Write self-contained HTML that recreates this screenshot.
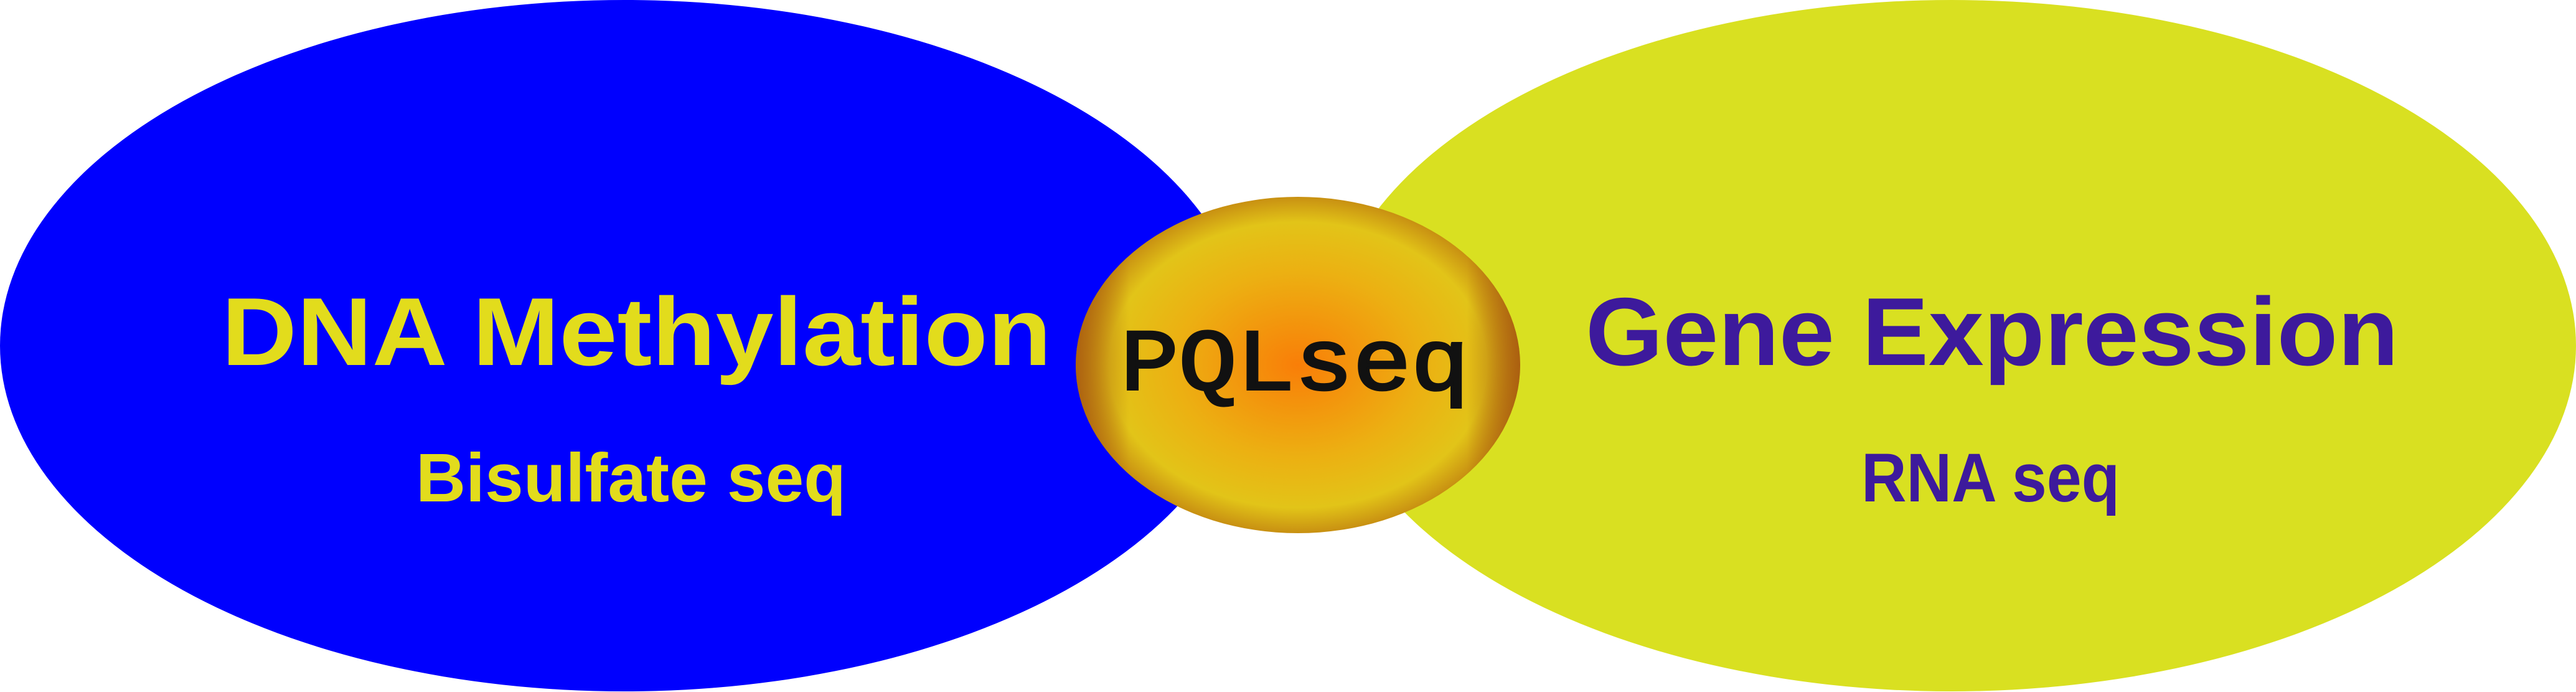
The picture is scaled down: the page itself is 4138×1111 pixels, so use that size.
<!DOCTYPE html>
<html><head><meta charset="utf-8"><style>html,body{margin:0;padding:0;background:#fff}svg{display:block}</style></head>
<body>
<svg width="4138" height="1111" viewBox="0 0 4138 1111" xmlns="http://www.w3.org/2000/svg">
<defs>
<radialGradient id="mid" cx="0.5" cy="0.5" r="0.5">
<stop offset="0" stop-color="#f97e08"/>
<stop offset="0.55" stop-color="#ecb012"/>
<stop offset="0.85" stop-color="#e2c418"/>
<stop offset="1" stop-color="#c89012"/>
</radialGradient>
<linearGradient id="side" x1="0" y1="0" x2="1" y2="0">
<stop offset="0" stop-color="#a85a10" stop-opacity="0.85"/>
<stop offset="0.12" stop-color="#a85a10" stop-opacity="0"/>
<stop offset="0.88" stop-color="#a85a10" stop-opacity="0"/>
<stop offset="1" stop-color="#a85a10" stop-opacity="0.9"/>
</linearGradient>
</defs>
<ellipse cx="1003" cy="555" rx="1003" ry="555" fill="#0000fe"/>
<ellipse cx="3135" cy="555" rx="1003" ry="555" fill="#d9e021"/>
<ellipse cx="2085" cy="586" rx="357" ry="270" fill="url(#mid)"/>
<ellipse cx="2085" cy="586" rx="357" ry="270" fill="url(#side)"/>
<g font-family="Liberation Sans, sans-serif" font-weight="bold">
<text x="356" y="586" font-size="155" textLength="1333" lengthAdjust="spacingAndGlyphs" fill="#e2dc1c">DNA Methylation</text>
<text x="668" y="805" font-size="110" textLength="691" lengthAdjust="spacingAndGlyphs" fill="#e2dc1c">Bisulfate seq</text>
<text x="2547" y="586" font-size="155" textLength="1306" lengthAdjust="spacingAndGlyphs" fill="#3d1a9c">Gene Expression</text>
<text x="2990" y="805" font-size="110" textLength="415" lengthAdjust="spacingAndGlyphs" fill="#3d1a9c">RNA seq</text>
</g>
<text x="1800" y="625" font-family="Liberation Mono, monospace" font-size="140" textLength="560" lengthAdjust="spacingAndGlyphs" fill="#111" stroke="#111" stroke-width="4">PQLseq</text>
</svg>
</body></html>
